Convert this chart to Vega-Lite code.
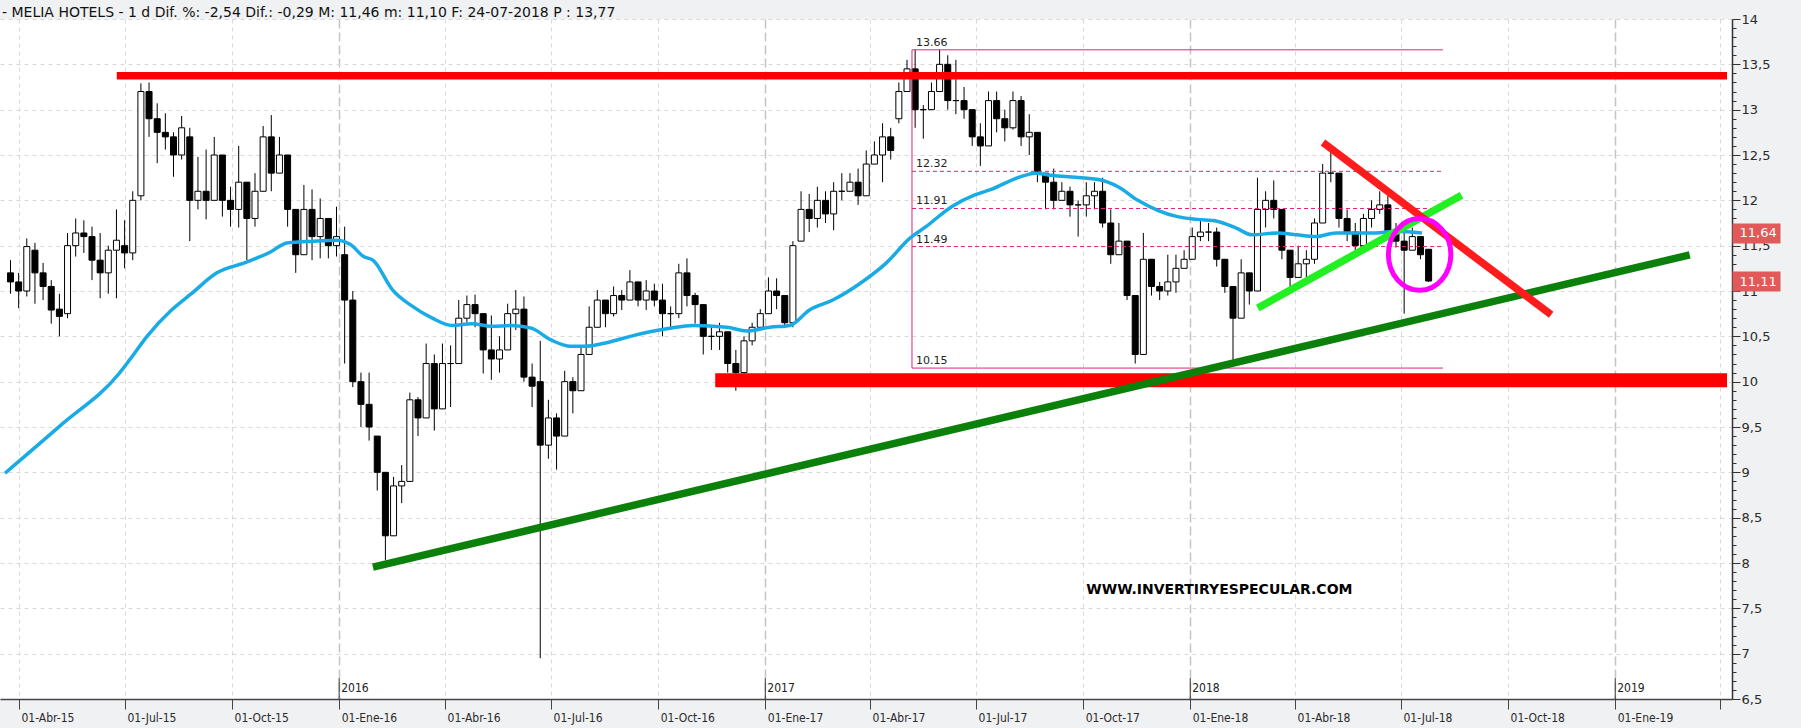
{
"$schema": "https://vega.github.io/schema/vega-lite/v6.json",
"width": 1732, "height": 680,
"autosize": {"type": "none"},
"padding": {"left": 0, "top": 19, "right": 69, "bottom": 29},
"background": "#f0f1f3",
"view": {"fill": "white", "stroke": null},
"title": {"text": "- MELIA HOTELS -  1 d Dif. %: -2,54  Dif.: -0,29  M: 11,46  m: 11,10  F: 24-07-2018  P : 13,77", "anchor": "start", "frame": "group", "fontSize": 14, "font": "DejaVu Sans", "fontWeight": "normal", "color": "#111111", "offset": -7, "dx": 2},
"datasets": {
"candles": [
{"d":"2015-03-23","o":11.2,"h":11.34,"l":10.97,"c":11.1},
{"d":"2015-03-30","o":11.1,"h":11.2,"l":10.81,"c":11.0},
{"d":"2015-04-06","o":11.0,"h":11.58,"l":10.94,"c":11.49},
{"d":"2015-04-13","o":11.45,"h":11.53,"l":10.86,"c":11.2},
{"d":"2015-04-20","o":11.2,"h":11.31,"l":10.9,"c":11.05},
{"d":"2015-04-27","o":11.05,"h":11.12,"l":10.64,"c":10.79},
{"d":"2015-05-04","o":10.8,"h":10.97,"l":10.5,"c":10.72},
{"d":"2015-05-11","o":10.75,"h":11.64,"l":10.7,"c":11.5},
{"d":"2015-05-18","o":11.5,"h":11.8,"l":11.38,"c":11.64},
{"d":"2015-05-25","o":11.64,"h":11.78,"l":11.42,"c":11.6},
{"d":"2015-06-01","o":11.6,"h":11.71,"l":11.12,"c":11.34},
{"d":"2015-06-08","o":11.34,"h":11.64,"l":10.92,"c":11.2},
{"d":"2015-06-15","o":11.2,"h":11.5,"l":10.97,"c":11.45},
{"d":"2015-06-22","o":11.45,"h":11.9,"l":10.92,"c":11.56},
{"d":"2015-06-29","o":11.5,"h":11.78,"l":11.25,"c":11.42},
{"d":"2015-07-06","o":11.42,"h":12.1,"l":11.34,"c":12.0},
{"d":"2015-07-13","o":12.05,"h":13.29,"l":12.0,"c":13.2},
{"d":"2015-07-20","o":13.2,"h":13.3,"l":12.7,"c":12.9},
{"d":"2015-07-27","o":12.9,"h":13.07,"l":12.41,"c":12.75},
{"d":"2015-08-03","o":12.75,"h":12.96,"l":12.56,"c":12.7},
{"d":"2015-08-10","o":12.7,"h":12.75,"l":12.26,"c":12.5},
{"d":"2015-08-17","o":12.5,"h":12.93,"l":12.45,"c":12.8},
{"d":"2015-08-24","o":12.7,"h":12.8,"l":11.55,"c":12.0},
{"d":"2015-08-31","o":12.0,"h":12.48,"l":11.9,"c":12.1},
{"d":"2015-09-07","o":12.1,"h":12.56,"l":11.79,"c":12.0},
{"d":"2015-09-14","o":12.0,"h":12.7,"l":12.0,"c":12.5},
{"d":"2015-09-21","o":12.5,"h":12.5,"l":11.82,"c":12.0},
{"d":"2015-09-28","o":12.0,"h":12.15,"l":11.71,"c":11.9},
{"d":"2015-10-05","o":11.9,"h":12.6,"l":11.7,"c":12.2},
{"d":"2015-10-12","o":12.2,"h":12.2,"l":11.34,"c":11.8},
{"d":"2015-10-19","o":11.8,"h":12.3,"l":11.71,"c":12.1},
{"d":"2015-10-26","o":12.1,"h":12.82,"l":12.1,"c":12.7},
{"d":"2015-11-02","o":12.7,"h":12.94,"l":12.1,"c":12.3},
{"d":"2015-11-09","o":12.3,"h":12.7,"l":12.3,"c":12.5},
{"d":"2015-11-16","o":12.5,"h":12.5,"l":11.71,"c":11.9},
{"d":"2015-11-23","o":11.9,"h":11.9,"l":11.2,"c":11.4},
{"d":"2015-11-30","o":11.4,"h":12.17,"l":11.4,"c":11.9},
{"d":"2015-12-07","o":11.9,"h":12.12,"l":11.34,"c":11.6},
{"d":"2015-12-14","o":11.6,"h":12.02,"l":11.36,"c":11.8},
{"d":"2015-12-21","o":11.8,"h":11.8,"l":11.36,"c":11.5},
{"d":"2015-12-28","o":11.5,"h":11.93,"l":11.38,"c":11.6},
{"d":"2016-01-04","o":11.4,"h":11.71,"l":10.2,"c":10.9},
{"d":"2016-01-11","o":10.9,"h":11.0,"l":9.94,"c":10.0},
{"d":"2016-01-18","o":10.0,"h":10.1,"l":9.5,"c":9.75},
{"d":"2016-01-25","o":9.75,"h":10.1,"l":9.35,"c":9.5},
{"d":"2016-02-01","o":9.4,"h":9.4,"l":8.8,"c":9.0},
{"d":"2016-02-08","o":9.0,"h":9.0,"l":8.03,"c":8.3},
{"d":"2016-02-15","o":8.3,"h":8.95,"l":8.3,"c":8.85},
{"d":"2016-02-22","o":8.85,"h":9.08,"l":8.66,"c":8.9},
{"d":"2016-02-29","o":8.9,"h":9.88,"l":8.9,"c":9.8},
{"d":"2016-03-07","o":9.8,"h":9.83,"l":9.4,"c":9.6},
{"d":"2016-03-14","o":9.6,"h":10.42,"l":9.6,"c":10.2},
{"d":"2016-03-21","o":10.2,"h":10.3,"l":9.46,"c":9.7},
{"d":"2016-03-28","o":9.7,"h":10.42,"l":9.7,"c":10.2},
{"d":"2016-04-04","o":10.2,"h":10.4,"l":9.72,"c":10.2},
{"d":"2016-04-11","o":10.2,"h":10.9,"l":10.2,"c":10.7},
{"d":"2016-04-18","o":10.7,"h":10.95,"l":10.65,"c":10.85},
{"d":"2016-04-25","o":10.85,"h":10.96,"l":10.6,"c":10.75},
{"d":"2016-05-02","o":10.75,"h":10.75,"l":10.09,"c":10.35},
{"d":"2016-05-09","o":10.35,"h":10.73,"l":10.02,"c":10.25},
{"d":"2016-05-16","o":10.25,"h":10.5,"l":10.1,"c":10.35},
{"d":"2016-05-23","o":10.35,"h":10.86,"l":10.35,"c":10.75},
{"d":"2016-05-30","o":10.75,"h":11.01,"l":10.57,"c":10.8},
{"d":"2016-06-06","o":10.8,"h":10.94,"l":10.0,"c":10.05},
{"d":"2016-06-13","o":10.05,"h":10.2,"l":9.72,"c":9.95},
{"d":"2016-06-20","o":10.0,"h":10.45,"l":6.95,"c":9.3},
{"d":"2016-06-27","o":9.3,"h":9.8,"l":9.15,"c":9.6},
{"d":"2016-07-04","o":9.6,"h":9.65,"l":9.03,"c":9.4},
{"d":"2016-07-11","o":9.4,"h":10.12,"l":9.4,"c":10.0},
{"d":"2016-07-18","o":10.0,"h":10.05,"l":9.65,"c":9.9},
{"d":"2016-07-25","o":9.9,"h":10.38,"l":9.9,"c":10.3},
{"d":"2016-08-01","o":10.3,"h":10.83,"l":10.3,"c":10.6},
{"d":"2016-08-08","o":10.6,"h":11.01,"l":10.6,"c":10.9},
{"d":"2016-08-15","o":10.9,"h":10.9,"l":10.6,"c":10.75},
{"d":"2016-08-22","o":10.75,"h":11.05,"l":10.72,"c":10.95},
{"d":"2016-08-29","o":10.95,"h":11.01,"l":10.79,"c":10.9},
{"d":"2016-09-05","o":10.9,"h":11.23,"l":10.9,"c":11.1},
{"d":"2016-09-12","o":11.1,"h":11.1,"l":10.83,"c":10.9},
{"d":"2016-09-19","o":10.9,"h":11.12,"l":10.79,"c":11.0},
{"d":"2016-09-26","o":11.0,"h":11.08,"l":10.83,"c":10.9},
{"d":"2016-10-03","o":10.9,"h":11.08,"l":10.5,"c":10.75},
{"d":"2016-10-10","o":10.75,"h":10.83,"l":10.6,"c":10.75},
{"d":"2016-10-17","o":10.75,"h":11.3,"l":10.7,"c":11.2},
{"d":"2016-10-24","o":11.2,"h":11.36,"l":10.83,"c":10.95},
{"d":"2016-10-31","o":10.95,"h":10.98,"l":10.64,"c":10.85},
{"d":"2016-11-07","o":10.85,"h":10.85,"l":10.3,"c":10.5},
{"d":"2016-11-14","o":10.5,"h":10.6,"l":10.35,"c":10.5},
{"d":"2016-11-21","o":10.5,"h":10.65,"l":10.35,"c":10.55},
{"d":"2016-11-28","o":10.55,"h":10.55,"l":10.1,"c":10.2},
{"d":"2016-12-05","o":10.2,"h":10.35,"l":9.9,"c":10.1},
{"d":"2016-12-12","o":10.1,"h":10.5,"l":10.05,"c":10.45},
{"d":"2016-12-19","o":10.45,"h":10.65,"l":10.4,"c":10.6},
{"d":"2016-12-26","o":10.6,"h":10.8,"l":10.58,"c":10.75},
{"d":"2017-01-02","o":10.75,"h":11.15,"l":10.75,"c":11.0},
{"d":"2017-01-09","o":11.0,"h":11.14,"l":10.8,"c":10.95},
{"d":"2017-01-16","o":10.95,"h":10.95,"l":10.6,"c":10.65},
{"d":"2017-01-23","o":10.65,"h":11.55,"l":10.6,"c":11.5},
{"d":"2017-01-30","o":11.55,"h":12.1,"l":11.55,"c":11.9},
{"d":"2017-02-06","o":11.9,"h":12.07,"l":11.65,"c":11.8},
{"d":"2017-02-13","o":11.8,"h":12.15,"l":11.7,"c":12.0},
{"d":"2017-02-20","o":12.0,"h":12.1,"l":11.75,"c":11.85},
{"d":"2017-02-27","o":11.85,"h":12.2,"l":11.67,"c":12.1},
{"d":"2017-03-06","o":12.1,"h":12.3,"l":12.0,"c":12.1},
{"d":"2017-03-13","o":12.1,"h":12.3,"l":12.1,"c":12.2},
{"d":"2017-03-20","o":12.2,"h":12.35,"l":11.95,"c":12.05},
{"d":"2017-03-27","o":12.05,"h":12.55,"l":12.05,"c":12.4},
{"d":"2017-04-03","o":12.4,"h":12.65,"l":12.4,"c":12.5},
{"d":"2017-04-10","o":12.5,"h":12.85,"l":12.2,"c":12.7},
{"d":"2017-04-17","o":12.7,"h":12.8,"l":12.45,"c":12.55},
{"d":"2017-04-24","o":12.9,"h":13.3,"l":12.85,"c":13.2},
{"d":"2017-05-01","o":13.2,"h":13.55,"l":13.2,"c":13.45},
{"d":"2017-05-08","o":13.45,"h":13.66,"l":12.8,"c":13.0},
{"d":"2017-05-15","o":13.0,"h":13.05,"l":12.68,"c":13.0},
{"d":"2017-05-22","o":13.0,"h":13.3,"l":13.0,"c":13.2},
{"d":"2017-05-29","o":13.2,"h":13.66,"l":13.2,"c":13.5},
{"d":"2017-06-05","o":13.5,"h":13.6,"l":13.0,"c":13.1},
{"d":"2017-06-12","o":13.1,"h":13.55,"l":12.95,"c":13.1},
{"d":"2017-06-19","o":13.1,"h":13.25,"l":12.9,"c":13.0},
{"d":"2017-06-26","o":13.0,"h":13.0,"l":12.6,"c":12.7},
{"d":"2017-07-03","o":12.7,"h":12.85,"l":12.38,"c":12.6},
{"d":"2017-07-10","o":12.6,"h":13.2,"l":12.6,"c":13.1},
{"d":"2017-07-17","o":13.1,"h":13.2,"l":12.75,"c":12.9},
{"d":"2017-07-24","o":12.9,"h":13.0,"l":12.65,"c":12.8},
{"d":"2017-07-31","o":12.8,"h":13.2,"l":12.78,"c":13.1},
{"d":"2017-08-07","o":13.1,"h":13.15,"l":12.6,"c":12.7},
{"d":"2017-08-14","o":12.7,"h":12.95,"l":12.5,"c":12.75},
{"d":"2017-08-21","o":12.75,"h":12.75,"l":12.2,"c":12.3},
{"d":"2017-08-28","o":12.3,"h":12.3,"l":11.9,"c":12.2},
{"d":"2017-09-04","o":12.2,"h":12.35,"l":11.9,"c":12.0},
{"d":"2017-09-11","o":12.0,"h":12.2,"l":12.0,"c":12.1},
{"d":"2017-09-18","o":12.1,"h":12.15,"l":11.82,"c":11.95},
{"d":"2017-09-25","o":11.95,"h":12.0,"l":11.6,"c":11.95},
{"d":"2017-10-02","o":11.95,"h":12.2,"l":11.82,"c":12.05},
{"d":"2017-10-09","o":12.05,"h":12.2,"l":11.9,"c":12.1},
{"d":"2017-10-16","o":12.1,"h":12.25,"l":11.7,"c":11.75},
{"d":"2017-10-23","o":11.75,"h":11.9,"l":11.3,"c":11.4},
{"d":"2017-10-30","o":11.4,"h":11.75,"l":11.4,"c":11.55},
{"d":"2017-11-06","o":11.55,"h":11.55,"l":10.9,"c":10.95},
{"d":"2017-11-13","o":10.95,"h":10.95,"l":10.2,"c":10.3},
{"d":"2017-11-20","o":10.3,"h":11.64,"l":10.3,"c":11.35},
{"d":"2017-11-27","o":11.35,"h":11.35,"l":10.95,"c":11.05},
{"d":"2017-12-04","o":11.05,"h":11.1,"l":10.9,"c":11.0},
{"d":"2017-12-11","o":11.0,"h":11.4,"l":10.95,"c":11.1},
{"d":"2017-12-18","o":11.1,"h":11.4,"l":10.98,"c":11.25},
{"d":"2017-12-25","o":11.25,"h":11.45,"l":11.25,"c":11.35},
{"d":"2018-01-01","o":11.35,"h":11.7,"l":11.35,"c":11.6},
{"d":"2018-01-08","o":11.6,"h":11.78,"l":11.55,"c":11.65},
{"d":"2018-01-15","o":11.65,"h":11.75,"l":11.55,"c":11.65},
{"d":"2018-01-22","o":11.65,"h":11.7,"l":11.27,"c":11.35},
{"d":"2018-01-29","o":11.35,"h":11.35,"l":10.98,"c":11.05},
{"d":"2018-02-05","o":11.05,"h":11.05,"l":10.24,"c":10.7},
{"d":"2018-02-12","o":10.7,"h":11.35,"l":10.7,"c":11.2},
{"d":"2018-02-19","o":11.2,"h":11.2,"l":10.85,"c":11.0},
{"d":"2018-02-26","o":11.0,"h":12.25,"l":11.0,"c":11.9},
{"d":"2018-03-05","o":11.9,"h":12.1,"l":11.7,"c":12.0},
{"d":"2018-03-12","o":12.0,"h":12.22,"l":11.8,"c":11.9},
{"d":"2018-03-19","o":11.9,"h":11.9,"l":11.35,"c":11.45},
{"d":"2018-03-26","o":11.45,"h":11.45,"l":11.05,"c":11.15},
{"d":"2018-04-02","o":11.15,"h":11.5,"l":11.15,"c":11.3},
{"d":"2018-04-09","o":11.3,"h":11.45,"l":11.15,"c":11.35},
{"d":"2018-04-16","o":11.35,"h":11.8,"l":11.3,"c":11.75},
{"d":"2018-04-23","o":11.75,"h":12.4,"l":11.75,"c":12.3},
{"d":"2018-04-30","o":12.3,"h":12.55,"l":12.2,"c":12.3},
{"d":"2018-05-07","o":12.3,"h":12.3,"l":11.7,"c":11.8},
{"d":"2018-05-14","o":11.8,"h":11.9,"l":11.55,"c":11.65},
{"d":"2018-05-21","o":11.65,"h":11.75,"l":11.45,"c":11.5},
{"d":"2018-05-28","o":11.5,"h":11.85,"l":11.5,"c":11.8},
{"d":"2018-06-04","o":11.8,"h":12.0,"l":11.7,"c":11.9},
{"d":"2018-06-11","o":11.9,"h":12.1,"l":11.85,"c":11.95},
{"d":"2018-06-18","o":11.95,"h":12.05,"l":11.6,"c":11.65},
{"d":"2018-06-25","o":11.65,"h":11.75,"l":11.48,"c":11.55},
{"d":"2018-07-02","o":11.55,"h":11.65,"l":10.75,"c":11.45},
{"d":"2018-07-09","o":11.45,"h":11.7,"l":11.45,"c":11.6},
{"d":"2018-07-16","o":11.6,"h":11.6,"l":11.35,"c":11.4},
{"d":"2018-07-23","o":11.46,"h":11.46,"l":11.1,"c":11.11}
],
"ma": [
{"d":"2015-03-20","v":8.99},{"d":"2015-05-07","v":9.52},{"d":"2015-06-26","v":10.09},{"d":"2015-07-05","v":10.24},
{"d":"2015-07-20","v":10.5},{"d":"2015-08-10","v":10.79},{"d":"2015-08-27","v":10.97},{"d":"2015-09-18","v":11.2},
{"d":"2015-10-14","v":11.32},{"d":"2015-11-03","v":11.43},{"d":"2015-11-17","v":11.53},{"d":"2015-12-10","v":11.55},
{"d":"2015-12-30","v":11.56},{"d":"2016-01-11","v":11.51},{"d":"2016-01-22","v":11.38},{"d":"2016-01-30","v":11.34},
{"d":"2016-02-16","v":11.01},{"d":"2016-03-04","v":10.83},{"d":"2016-03-21","v":10.7},{"d":"2016-04-07","v":10.62},
{"d":"2016-04-24","v":10.64},{"d":"2016-05-11","v":10.61},{"d":"2016-05-28","v":10.62},{"d":"2016-06-14","v":10.59},
{"d":"2016-07-01","v":10.46},{"d":"2016-07-18","v":10.39},{"d":"2016-07-29","v":10.39},{"d":"2016-08-21","v":10.44},
{"d":"2016-09-07","v":10.5},{"d":"2016-09-24","v":10.55},{"d":"2016-10-11","v":10.59},{"d":"2016-10-31","v":10.62},
{"d":"2016-11-29","v":10.6},{"d":"2016-12-16","v":10.56},{"d":"2017-01-05","v":10.6},{"d":"2017-01-22","v":10.62},
{"d":"2017-02-08","v":10.79},{"d":"2017-02-28","v":10.9},{"d":"2017-03-23","v":11.08},{"d":"2017-04-15","v":11.31},
{"d":"2017-05-05","v":11.58},{"d":"2017-05-19","v":11.71},{"d":"2017-06-10","v":11.93},{"d":"2017-06-30","v":12.06},
{"d":"2017-07-14","v":12.12},{"d":"2017-08-06","v":12.25},{"d":"2017-08-21","v":12.3},{"d":"2017-09-01","v":12.28},
{"d":"2017-09-18","v":12.26},{"d":"2017-10-14","v":12.23},{"d":"2017-10-31","v":12.15},{"d":"2017-11-17","v":12.0},
{"d":"2017-12-04","v":11.89},{"d":"2017-12-21","v":11.82},{"d":"2018-01-07","v":11.79},{"d":"2018-01-24","v":11.77},
{"d":"2018-02-10","v":11.69},{"d":"2018-02-23","v":11.62},{"d":"2018-03-17","v":11.64},{"d":"2018-04-02","v":11.62},
{"d":"2018-04-19","v":11.6},{"d":"2018-05-06","v":11.64},{"d":"2018-05-23","v":11.64},{"d":"2018-06-09","v":11.64},
{"d":"2018-06-27","v":11.66},{"d":"2018-07-19","v":11.64}
],
"lines": [
{"id":"resistencia","d":"2015-06-24","v":13.375,"d2":"2019-04-07","v2":13.375},
{"id":"alcista","d":"2016-01-30","v":7.955,"d2":"2019-03-06","v2":11.398},
{"id":"alcista corto","d":"2018-02-28","v":10.812,"d2":"2018-08-22","v2":12.057},
{"id":"bajista","d":"2018-04-25","v":12.637,"d2":"2018-11-07","v2":10.738}
],
"soporte": [
{"id":"soporte","d":"2016-11-19","v":10.017,"d2":"2019-04-07","v2":10.017}
],
"fib": [
{"lvl":13.66,"t":"13.66"},{"lvl":12.32,"t":"12.32"},{"lvl":11.91,"t":"11.91"},{"lvl":11.49,"t":"11.49"},{"lvl":10.15,"t":"10.15"}
],
"years": [
{"d":"2016-01-01","t":"2016"},{"d":"2017-01-01","t":"2017"},{"d":"2018-01-01","t":"2018"},{"d":"2019-01-01","t":"2019"}
],
"circle": [{"d":"2018-07-17","v":11.403}],
"marca": [{"d":"2018-01-26","v":7.705,"t":"WWW.INVERTIRYESPECULAR.COM"}]
},
"layer": [
{
"data": {"name": "candles"},
"mark": {"type": "rule", "color": "#000000", "strokeWidth": 1, "xOffset": 2},
"encoding": {
"x": {"field": "d", "type": "temporal",
 "scale": {"type": "utc", "domain": [{"year":2015,"month":3,"date":20,"utc":true},{"year":2019,"month":4,"date":7,"utc":true}]},
 "axis": {"title": null, "orient": "bottom",
  "values": [{"year":2015,"month":4,"date":1,"utc":true},{"year":2015,"month":7,"date":1,"utc":true},{"year":2015,"month":10,"date":1,"utc":true},
   {"year":2016,"month":1,"date":1,"utc":true},{"year":2016,"month":4,"date":1,"utc":true},{"year":2016,"month":7,"date":1,"utc":true},{"year":2016,"month":10,"date":1,"utc":true},
   {"year":2017,"month":1,"date":1,"utc":true},{"year":2017,"month":4,"date":1,"utc":true},{"year":2017,"month":7,"date":1,"utc":true},{"year":2017,"month":10,"date":1,"utc":true},
   {"year":2018,"month":1,"date":1,"utc":true},{"year":2018,"month":4,"date":1,"utc":true},{"year":2018,"month":7,"date":1,"utc":true},{"year":2018,"month":10,"date":1,"utc":true},
   {"year":2019,"month":1,"date":1,"utc":true},{"year":2019,"month":4,"date":1,"utc":true}],
  "labelExpr": "utcyear(datum.value) == 2019 && utcmonth(datum.value) == 3 ? '' : '01-' + ['Ene','Feb','Mar','Abr','May','Jun','Jul','Ago','Sep','Oct','Nov','Dic'][utcmonth(datum.value)] + '-' + utcFormat(datum.value, '%y')",
  "labelAlign": "left", "labelOffset": 2, "labelPadding": 3, "labelFont": "DejaVu Sans Condensed", "labelFontSize": 12, "labelColor": "#2a2a2a",
  "labelOverlap": false, "labelFlush": false, "labelBound": false,
  "tickSize": 10, "tickColor": "#444444", "tickWidth": 1,
  "domainColor": "#444444", "domainWidth": 1.5,
  "grid": true,
  "gridColor": {"condition": {"test": "utcmonth(datum.value) == 0", "value": "#c4c4c4"}, "value": "#d8d8d8"},
  "gridDash": {"condition": {"test": "utcmonth(datum.value) == 0", "value": [9, 4]}, "value": [4, 4]},
  "gridWidth": {"condition": {"test": "utcmonth(datum.value) == 0", "value": 1.5}, "value": 1}
 }},
"y": {"field": "l", "type": "quantitative",
 "scale": {"domain": [6.5, 14], "nice": false, "zero": false},
 "axis": {"title": null, "orient": "right",
  "values": [6.5,6.6,6.7,6.8,6.9,7,7.1,7.2,7.3,7.4,7.5,7.6,7.7,7.8,7.9,8,8.1,8.2,8.3,8.4,8.5,8.6,8.7,8.8,8.9,9,9.1,9.2,9.3,9.4,9.5,9.6,9.7,9.8,9.9,10,10.1,10.2,10.3,10.4,10.5,10.6,10.7,10.8,10.9,11,11.1,11.2,11.3,11.4,11.5,11.6,11.7,11.8,11.9,12,12.1,12.2,12.3,12.4,12.5,12.6,12.7,12.8,12.9,13,13.1,13.2,13.3,13.4,13.5,13.6,13.7,13.8,13.9,14],
  "labelExpr": "abs(datum.value*2 - round(datum.value*2)) < 0.001 ? replace(format(datum.value, '.1~f'), '.', ',') : ''",
  "labelFont": "DejaVu Sans", "labelFontSize": 13, "labelColor": "#2a2a2a", "labelPadding": 1,
  "labelOverlap": false, "labelFlush": false, "labelBound": false,
  "tickColor": "#333333",
  "tickSize": {"condition": {"test": "abs(datum.value*2 - round(datum.value*2)) < 0.001", "value": 8}, "value": 4},
  "domainColor": "#333333", "domainWidth": 1.5,
  "grid": true, "gridColor": "#d8d8d8", "gridDash": [4, 4],
  "gridOpacity": {"condition": {"test": "abs(datum.value*2 - round(datum.value*2)) < 0.001", "value": 1}, "value": 0}
 }},
"y2": {"field": "h"}
}
},
{
"data": {"name": "candles"},
"mark": {"type": "bar", "width": 6, "stroke": "#000000", "strokeWidth": 1, "xOffset": 2},
"encoding": {
"x": {"field": "d", "type": "temporal"},
"y": {"field": "o", "type": "quantitative", "axis": null},
"y2": {"field": "c"},
"fill": {"condition": {"test": "datum.o > datum.c", "value": "#000000"}, "value": "#ffffff"}
}
},
{
"data": {"name": "fib"},
"transform": [{"filter": "datum.lvl > 13 || datum.lvl < 10.5"}],
"mark": {"type": "rule", "color": "#e4207e", "strokeWidth": 1},
"encoding": {
"x": {"datum": {"year":2017,"month":5,"date":7,"utc":true}, "type": "temporal"},
"x2": {"datum": {"year":2018,"month":8,"date":6,"utc":true}},
"y": {"field": "lvl", "type": "quantitative", "axis": null}
}
},
{
"data": {"name": "fib"},
"transform": [{"filter": "datum.lvl < 13 && datum.lvl > 10.5"}],
"mark": {"type": "rule", "color": "#e4207e", "strokeWidth": 1, "strokeDash": [4, 3]},
"encoding": {
"x": {"datum": {"year":2017,"month":5,"date":7,"utc":true}, "type": "temporal"},
"x2": {"datum": {"year":2018,"month":8,"date":6,"utc":true}},
"y": {"field": "lvl", "type": "quantitative", "axis": null}
}
},
{
"data": {"name": "fib"},
"transform": [{"aggregate": [{"op": "min", "field": "lvl", "as": "lo"}, {"op": "max", "field": "lvl", "as": "hi"}]}],
"mark": {"type": "rule", "color": "#e4207e", "strokeWidth": 1},
"encoding": {
"x": {"datum": {"year":2017,"month":5,"date":7,"utc":true}, "type": "temporal"},
"y": {"field": "lo", "type": "quantitative", "axis": null},
"y2": {"field": "hi"}
}
},
{
"data": {"name": "fib"},
"mark": {"type": "text", "align": "left", "baseline": "bottom", "dx": 4, "dy": -2, "font": "DejaVu Sans", "fontSize": 11, "color": "#222222"},
"encoding": {
"x": {"datum": {"year":2017,"month":5,"date":7,"utc":true}, "type": "temporal"},
"y": {"field": "lvl", "type": "quantitative", "axis": null},
"text": {"field": "t"}
}
},
{
"data": {"name": "ma"},
"mark": {"type": "line", "color": "#19abe6", "strokeWidth": 3.5, "interpolate": "monotone"},
"encoding": {
"x": {"field": "d", "type": "temporal"},
"y": {"field": "v", "type": "quantitative",
 "axis": {"title": null, "orient": "right", "values": [11.64, 11.11], "zindex": 2,
  "labelExpr": "replace(format(datum.value, '.2f'), '.', ',')",
  "labelColor": "#ffffff", "labelFont": "DejaVu Sans", "labelFontSize": 13, "labelPadding": -41, "labelBaseline": "middle",
  "labelOverlap": false, "labelFlush": false, "labelBound": false,
  "tickSize": 48, "tickWidth": 20, "tickColor": "#e25959",
  "domain": false, "grid": false}}
}
},
{
"data": {"name": "soporte"},
"mark": {"type": "rule", "strokeWidth": 14, "color": "#ff0000"},
"encoding": {
"x": {"field": "d", "type": "temporal"},
"x2": {"field": "d2"},
"y": {"field": "v", "type": "quantitative", "axis": null},
"y2": {"field": "v2"}
}
},
{
"data": {"name": "lines"},
"mark": {"type": "rule", "strokeWidth": 7.5},
"encoding": {
"x": {"field": "d", "type": "temporal"},
"x2": {"field": "d2"},
"y": {"field": "v", "type": "quantitative", "axis": null},
"y2": {"field": "v2"},
"color": {"field": "id", "type": "nominal", "legend": null,
 "scale": {"domain": ["resistencia", "alcista", "alcista corto", "bajista"], "range": ["#ff0000", "#0b800b", "#22f022", "#ff1c1c"]}}
}
},
{
"data": {"name": "circle"},
"mark": {"type": "point", "shape": "M -1 0 A 1 1.15 0 1 1 1 0 A 1 1.15 0 1 1 -1 0 Z", "size": 3900, "filled": false, "stroke": "#ff00ff", "strokeWidth": 5, "opacity": 1},
"encoding": {
"x": {"field": "d", "type": "temporal"},
"y": {"field": "v", "type": "quantitative", "axis": null}
}
},
{
"data": {"name": "years"},
"mark": {"type": "rule", "color": "#333333", "strokeWidth": 1},
"encoding": {
"x": {"field": "d", "type": "temporal"},
"y": {"datum": 6.5, "type": "quantitative", "axis": null},
"y2": {"datum": 6.73}
}
},
{
"data": {"name": "years"},
"mark": {"type": "text", "align": "left", "baseline": "bottom", "dx": 2, "dy": -4, "font": "DejaVu Sans Condensed", "fontSize": 12, "color": "#222222"},
"encoding": {
"x": {"field": "d", "type": "temporal"},
"y": {"datum": 6.5, "type": "quantitative", "axis": null},
"text": {"field": "t"}
}
},
{
"data": {"name": "marca"},
"mark": {"type": "text", "align": "center", "baseline": "middle", "font": "DejaVu Sans", "fontWeight": "bold", "fontSize": 14, "color": "#000000"},
"encoding": {
"x": {"field": "d", "type": "temporal"},
"y": {"field": "v", "type": "quantitative", "axis": null},
"text": {"field": "t"}
}
}
],
"resolve": {"axis": {"y": "independent"}}
}
